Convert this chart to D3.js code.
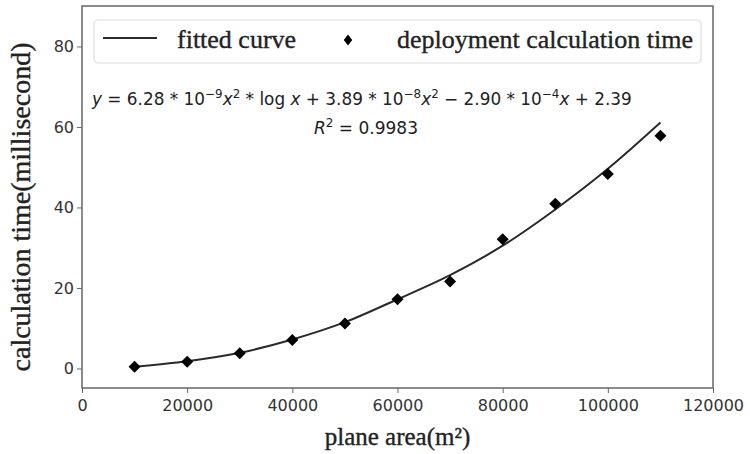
<!DOCTYPE html>
<html>
<head>
<meta charset="utf-8">
<script src="https://cdn.jsdelivr.net/npm/d3@7"></script>
<style>
  body { margin: 0; background: #fff; }
  .axis text { font-family: 'DejaVu Sans', sans-serif; font-size: 16px; fill: #333; }
  .axis path, .axis line { stroke: #666; }
  .serif { font-family: 'Liberation Serif', 'Times New Roman', serif; fill: #222; stroke: #222; stroke-width: 0.35px; }
</style>
</head>
<body>
<div id="chart"></div>
<script>
// data
const areas = [10000, 20000, 30000, 40000, 50000, 60000, 70000, 80000, 90000, 100000, 110000]
const calcTime = [0.45, 1.7, 3.8, 7.1, 11.2, 17.2, 21.6, 32.1, 40.9, 48.3, 57.8]
const fittedTime = [0.45, 1.8, 3.9, 7.2, 11.5, 17.2, 23.2, 30.5, 39.5, 49.6, 61.1]
const xTicks = [0, 20000, 40000, 60000, 80000, 100000, 120000]
const yTicks = [0, 20, 40, 60, 80]
const legendLabels = ['fitted curve', 'deployment calculation time']

const dimensions = {
  width: 750,
  height: 454,
  margins: { top: 6, right: 37, bottom: 66, left: 82 },
}
dimensions.ctrWidth = dimensions.width - dimensions.margins.left - dimensions.margins.right
dimensions.ctrHeight = dimensions.height - dimensions.margins.top - dimensions.margins.bottom

const svg = d3.select('#chart')
  .append('svg')
  .attr('width', dimensions.width)
  .attr('height', dimensions.height)

const ctr = svg.append('g')
  .attr('transform', `translate(${dimensions.margins.left}, ${dimensions.margins.top})`)

const xScale = d3.scaleLinear()
  .domain([0, 120000])
  .range([0, dimensions.ctrWidth])

const yScale = d3.scaleLinear()
  .domain([-4.85, 90.05])
  .range([dimensions.ctrHeight, 0])

// axes
const xAxisGroup = ctr.append('g')
  .classed('axis', true)
  .attr('transform', `translate(0, ${dimensions.ctrHeight})`)
  .call(d3.axisBottom(xScale).tickValues(xTicks).tickSize(5).tickSizeOuter(0).tickFormat(d3.format('d')))
xAxisGroup.selectAll('text').attr('dy', '0.95em')

ctr.append('g')
  .classed('axis', true)
  .call(d3.axisLeft(yScale).tickValues(yTicks).tickSize(5).tickSizeOuter(0))

ctr.selectAll('.axis .domain').remove()

// frame
ctr.append('rect')
  .attr('width', dimensions.ctrWidth)
  .attr('height', dimensions.ctrHeight)
  .attr('fill', 'none')
  .attr('stroke', '#666')
  .attr('stroke-width', 1.5)

// axis titles
svg.append('text')
  .attr('class', 'serif')
  .attr('x', dimensions.margins.left + dimensions.ctrWidth / 2)
  .attr('y', 445)
  .attr('text-anchor', 'middle')
  .style('font-size', '25px')
  .text('plane area(m²)')

svg.append('text')
  .attr('class', 'serif')
  .attr('transform', 'translate(30, 207) rotate(-90)')
  .attr('text-anchor', 'middle')
  .style('font-size', '28px')
  .text('calculation time(millisecond)')

// fitted curve
const line = d3.line()
  .x((d, i) => xScale(areas[i]))
  .y(d => yScale(d))
  .curve(d3.curveMonotoneX)

ctr.append('path')
  .datum(fittedTime)
  .attr('d', line)
  .attr('fill', 'none')
  .attr('stroke', '#2a2a2a')
  .attr('stroke-width', 2)

// markers
const diamond = d3.symbol().type(d3.symbolSquare).size(72)
ctr.selectAll('.pt')
  .data(calcTime)
  .enter()
  .append('path')
  .attr('class', 'pt')
  .attr('d', diamond)
  .attr('transform', (d, i) => `translate(${xScale(areas[i])}, ${yScale(d)}) rotate(45)`)
  .attr('fill', '#000')

// equation
const eq = svg.append('text')
  .attr('x', 92)
  .attr('y', 105)
  .style('font-family', "'DejaVu Sans', sans-serif")
  .style('font-size', '17px')
  .attr('fill', '#222')

const eqParts = [
  { t: 'y', it: true }, { t: ' = 6.28 * 10' }, { t: '−9', sup: true },
  { t: 'x', it: true }, { t: '2', sup: true }, { t: ' * log ' }, { t: 'x', it: true },
  { t: ' + 3.89 * 10' }, { t: '−8', sup: true }, { t: 'x', it: true }, { t: '2', sup: true },
  { t: ' − 2.90 * 10' }, { t: '−4', sup: true }, { t: 'x', it: true }, { t: ' + 2.39' },
]
eqParts.forEach((p, i) => {
  const ts = eq.append('tspan').text(p.t)
  if (p.it) ts.style('font-style', 'italic')
  const prevSup = i > 0 && eqParts[i - 1].sup
  if (p.sup && !prevSup) ts.attr('dy', -7)
  if (p.sup) ts.style('font-size', '12px')
  if (!p.sup && prevSup) ts.attr('dy', 7)
})
const eqW = eq.node().getComputedTextLength()
eq.attr('transform', `translate(92, 0) scale(${540 / eqW}, 1) translate(-92, 0)`)

const r2 = svg.append('text')
  .attr('x', 366)
  .attr('y', 134)
  .attr('text-anchor', 'middle')
  .style('font-family', "'DejaVu Sans', sans-serif")
  .style('font-size', '17px')
  .attr('fill', '#222')
r2.append('tspan').text('R').style('font-style', 'italic')
r2.append('tspan').text('2').attr('dy', -7).style('font-size', '12px')
r2.append('tspan').text(' = 0.9983').attr('dy', 7)

// legend
const legend = svg.append('g')
legend.append('rect')
  .attr('x', 94).attr('y', 20)
  .attr('width', 607).attr('height', 43)
  .attr('rx', 4)
  .attr('fill', '#fff')
  .attr('stroke', '#ddd')
  .attr('stroke-width', 1.2)

legend.append('line')
  .attr('x1', 103).attr('x2', 157)
  .attr('y1', 38).attr('y2', 38)
  .attr('stroke', '#2a2a2a')
  .attr('stroke-width', 2)

legend.append('path')
  .attr('d', d3.symbol().type(d3.symbolSquare).size(50))
  .attr('transform', 'translate(348, 40) scale(0.85, 1.1) rotate(45)')
  .attr('fill', '#000')

legend.selectAll('.lab')
  .data(legendLabels)
  .enter()
  .append('text')
  .attr('class', 'serif')
  .attr('x', (d, i) => i === 0 ? 177 : 397)
  .attr('y', 48)
  .style('font-size', '26px')
  .text(d => d)
</script>
</body>
</html>
